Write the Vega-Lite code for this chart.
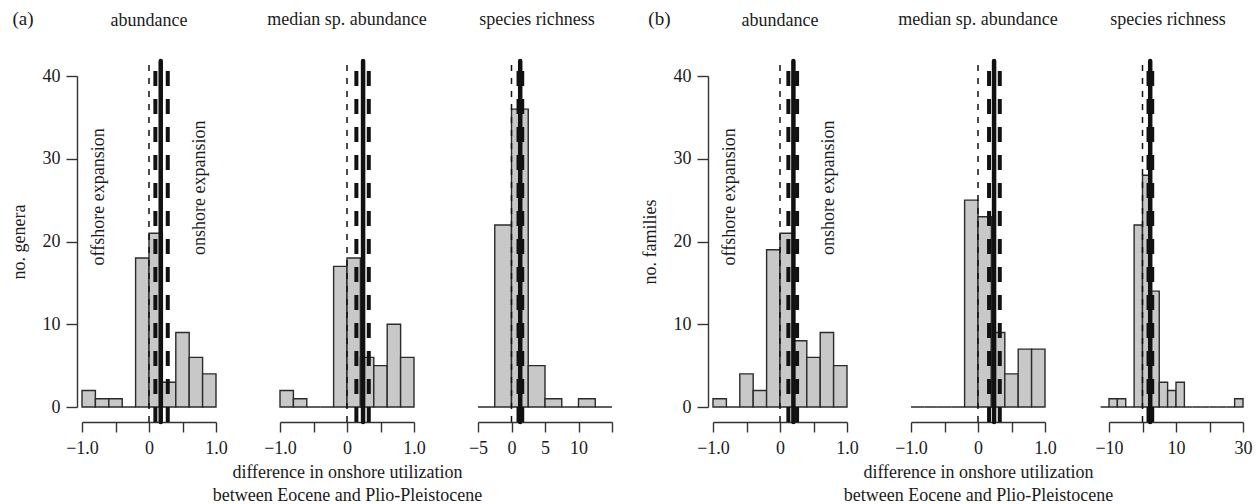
{
  "$schema": "https://vega.github.io/schema/vega-lite/v6.json",
  "padding": {"left": 10, "top": 9, "right": 2, "bottom": 2},
  "background": "white",
  "datasets": {
    "bins": [
      {"panel": "a1", "x0": -1.0, "x1": -0.8, "count": 2},
      {"panel": "a1", "x0": -0.8, "x1": -0.6, "count": 1},
      {"panel": "a1", "x0": -0.6, "x1": -0.4, "count": 1},
      {"panel": "a1", "x0": -0.4, "x1": -0.2, "count": 0},
      {"panel": "a1", "x0": -0.2, "x1": 0.0, "count": 18},
      {"panel": "a1", "x0": 0.0, "x1": 0.2, "count": 21},
      {"panel": "a1", "x0": 0.2, "x1": 0.4, "count": 3},
      {"panel": "a1", "x0": 0.4, "x1": 0.6, "count": 9},
      {"panel": "a1", "x0": 0.6, "x1": 0.8, "count": 6},
      {"panel": "a1", "x0": 0.8, "x1": 1.0, "count": 4},
      {"panel": "a2", "x0": -1.0, "x1": -0.8, "count": 2},
      {"panel": "a2", "x0": -0.8, "x1": -0.6, "count": 1},
      {"panel": "a2", "x0": -0.6, "x1": -0.4, "count": 0},
      {"panel": "a2", "x0": -0.4, "x1": -0.2, "count": 0},
      {"panel": "a2", "x0": -0.2, "x1": 0.0, "count": 17},
      {"panel": "a2", "x0": 0.0, "x1": 0.2, "count": 18},
      {"panel": "a2", "x0": 0.2, "x1": 0.4, "count": 6},
      {"panel": "a2", "x0": 0.4, "x1": 0.6, "count": 5},
      {"panel": "a2", "x0": 0.6, "x1": 0.8, "count": 10},
      {"panel": "a2", "x0": 0.8, "x1": 1.0, "count": 6},
      {"panel": "a3", "x0": -5, "x1": -2.5, "count": 0},
      {"panel": "a3", "x0": -2.5, "x1": 0, "count": 22},
      {"panel": "a3", "x0": 0, "x1": 2.5, "count": 36},
      {"panel": "a3", "x0": 2.5, "x1": 5, "count": 5},
      {"panel": "a3", "x0": 5, "x1": 7.5, "count": 1},
      {"panel": "a3", "x0": 7.5, "x1": 10, "count": 0},
      {"panel": "a3", "x0": 10, "x1": 12.5, "count": 1},
      {"panel": "a3", "x0": 12.5, "x1": 15, "count": 0},
      {"panel": "b1", "x0": -1.0, "x1": -0.8, "count": 1},
      {"panel": "b1", "x0": -0.8, "x1": -0.6, "count": 0},
      {"panel": "b1", "x0": -0.6, "x1": -0.4, "count": 4},
      {"panel": "b1", "x0": -0.4, "x1": -0.2, "count": 2},
      {"panel": "b1", "x0": -0.2, "x1": 0.0, "count": 19},
      {"panel": "b1", "x0": 0.0, "x1": 0.2, "count": 21},
      {"panel": "b1", "x0": 0.2, "x1": 0.4, "count": 8},
      {"panel": "b1", "x0": 0.4, "x1": 0.6, "count": 6},
      {"panel": "b1", "x0": 0.6, "x1": 0.8, "count": 9},
      {"panel": "b1", "x0": 0.8, "x1": 1.0, "count": 5},
      {"panel": "b2", "x0": -1.0, "x1": -0.8, "count": 0},
      {"panel": "b2", "x0": -0.8, "x1": -0.6, "count": 0},
      {"panel": "b2", "x0": -0.6, "x1": -0.4, "count": 0},
      {"panel": "b2", "x0": -0.4, "x1": -0.2, "count": 0},
      {"panel": "b2", "x0": -0.2, "x1": 0.0, "count": 25},
      {"panel": "b2", "x0": 0.0, "x1": 0.2, "count": 23},
      {"panel": "b2", "x0": 0.2, "x1": 0.4, "count": 9},
      {"panel": "b2", "x0": 0.4, "x1": 0.6, "count": 4},
      {"panel": "b2", "x0": 0.6, "x1": 0.8, "count": 7},
      {"panel": "b2", "x0": 0.8, "x1": 1.0, "count": 7},
      {"panel": "b3", "x0": -12.5, "x1": -10, "count": 0},
      {"panel": "b3", "x0": -10, "x1": -7.5, "count": 1},
      {"panel": "b3", "x0": -7.5, "x1": -5, "count": 1},
      {"panel": "b3", "x0": -5, "x1": -2.5, "count": 0},
      {"panel": "b3", "x0": -2.5, "x1": 0, "count": 22},
      {"panel": "b3", "x0": 0, "x1": 2.5, "count": 28},
      {"panel": "b3", "x0": 2.5, "x1": 5, "count": 14},
      {"panel": "b3", "x0": 5, "x1": 7.5, "count": 3},
      {"panel": "b3", "x0": 7.5, "x1": 10, "count": 2},
      {"panel": "b3", "x0": 10, "x1": 12.5, "count": 3},
      {"panel": "b3", "x0": 12.5, "x1": 15, "count": 0},
      {"panel": "b3", "x0": 15, "x1": 17.5, "count": 0},
      {"panel": "b3", "x0": 17.5, "x1": 20, "count": 0},
      {"panel": "b3", "x0": 20, "x1": 22.5, "count": 0},
      {"panel": "b3", "x0": 22.5, "x1": 25, "count": 0},
      {"panel": "b3", "x0": 25, "x1": 27.5, "count": 0},
      {"panel": "b3", "x0": 27.5, "x1": 30, "count": 1}
    ],
    "lines": [
      {"panel": "all", "kind": "zero", "value": 0},
      {"panel": "a1", "kind": "ci", "value": 0.095},
      {"panel": "a1", "kind": "ci", "value": 0.28},
      {"panel": "a1", "kind": "mean", "value": 0.175},
      {"panel": "a2", "kind": "ci", "value": 0.14},
      {"panel": "a2", "kind": "ci", "value": 0.325},
      {"panel": "a2", "kind": "mean", "value": 0.24},
      {"panel": "a3", "kind": "ci", "value": 1.05},
      {"panel": "a3", "kind": "ci", "value": 1.6},
      {"panel": "a3", "kind": "mean", "value": 1.3},
      {"panel": "b1", "kind": "ci", "value": 0.125},
      {"panel": "b1", "kind": "ci", "value": 0.255},
      {"panel": "b1", "kind": "mean", "value": 0.2},
      {"panel": "b2", "kind": "ci", "value": 0.165},
      {"panel": "b2", "kind": "ci", "value": 0.325},
      {"panel": "b2", "kind": "mean", "value": 0.24},
      {"panel": "b3", "kind": "ci", "value": 1.8},
      {"panel": "b3", "kind": "ci", "value": 2.9},
      {"panel": "b3", "kind": "mean", "value": 2.3}
    ],
    "one": [{}],
    "none": []
  },
  "spacing": 0,
  "bounds": "flush",
  "resolve": {"scale": {"x": "independent", "y": "independent"}},
  "hconcat": [
    {
      "width": 134, "height": 331,
      "title": {"text": "abundance", "offset": 30, "dy": 50},
      "layer": [
        {"data": {"name": "bins"}, "transform": [{"filter": "datum.panel === 'a1'"}],
         "mark": {"type": "rect", "fill": "#c8c8c8", "stroke": "#2b2b2b", "strokeWidth": 1.4},
         "encoding": {
           "x": {"field": "x0", "type": "quantitative", "scale": {"domain": [-1, 1], "nice": false, "zero": false},
                 "axis": {"values": [-1, -0.5, 0, 0.5, 1], "tickCount": 20, "title": null, "labelOverlap": false, "labelExpr": "datum.value === -1 ? '−1.0' : datum.value === 0 ? '0' : datum.value === 1 ? '1.0' : ''"}},
           "x2": {"field": "x1"},
           "y": {"field": "count", "type": "quantitative", "scale": {"domain": [0, 40], "nice": false},
                 "axis": {"title": "no. genera", "values": [0, 10, 20, 30, 40], "tickCount": 20, "labelOverlap": false}},
           "y2": {"datum": 0}
         }},
        {"data": {"name": "lines"}, "transform": [{"filter": "datum.kind === 'zero'"}],
         "mark": {"type": "rule", "stroke": "#111", "strokeWidth": 1.5, "strokeDash": [6, 7]},
         "encoding": {"x": {"field": "value", "type": "quantitative"}, "y": {"datum": -1.8}, "y2": {"datum": 41.8}}},
        {"data": {"name": "lines"}, "transform": [{"filter": "datum.panel === 'a1' && datum.kind === 'ci'"}],
         "mark": {"type": "rule", "stroke": "#111", "strokeWidth": 4, "strokeDash": [15, 13]},
         "encoding": {"x": {"field": "value", "type": "quantitative"}, "y": {"datum": -1.8}, "y2": {"datum": 41.8}}},
        {"data": {"name": "lines"}, "transform": [{"filter": "datum.panel === 'a1' && datum.kind === 'mean'"}],
         "mark": {"type": "rule", "stroke": "#111", "strokeWidth": 4.5, "strokeCap": "round"},
         "encoding": {"x": {"field": "value", "type": "quantitative"}, "y": {"datum": -1.8}, "y2": {"datum": 41.8}}},
        {"data": {"name": "one"},
         "mark": {"type": "text", "text": "offshore expansion", "angle": 270, "align": "center", "baseline": "middle", "fontSize": 18, "font": "Liberation Serif", "color": "#1a1a1a"},
         "encoding": {"x": {"datum": -0.74}, "y": {"datum": 25.4}}},
        {"data": {"name": "one"},
         "mark": {"type": "text", "text": "onshore expansion", "angle": 270, "align": "center", "baseline": "middle", "fontSize": 18, "font": "Liberation Serif", "color": "#1a1a1a"},
         "encoding": {"x": {"datum": 0.757}, "y": {"datum": 26.5}}},
        {"data": {"name": "one"},
         "mark": {"type": "text", "text": "(a)", "align": "center", "baseline": "alphabetic", "fontSize": 19, "font": "Liberation Serif", "color": "#1a1a1a"},
         "encoding": {"x": {"datum": -1.88}, "y": {"datum": 46.2}}}
      ]
    },
    {"width": 64, "height": 331, "data": {"name": "none"}, "mark": "point"},
    {
      "width": 134, "height": 331,
      "title": {"text": "median sp. abundance", "offset": 30},
      "layer": [
        {"data": {"name": "bins"}, "transform": [{"filter": "datum.panel === 'a2'"}],
         "mark": {"type": "rect", "fill": "#c8c8c8", "stroke": "#2b2b2b", "strokeWidth": 1.4},
         "encoding": {
           "x": {"field": "x0", "type": "quantitative", "scale": {"domain": [-1, 1], "nice": false, "zero": false},
                 "axis": {"values": [-1, -0.5, 0, 0.5, 1], "tickCount": 20, "title": ["difference in onshore utilization", "between Eocene and Plio-Pleistocene"], "titleLineHeight": 23, "titlePadding": 6, "labelOverlap": false, "labelExpr": "datum.value === -1 ? '−1.0' : datum.value === 0 ? '0' : datum.value === 1 ? '1.0' : ''"}},
           "x2": {"field": "x1"},
           "y": {"field": "count", "type": "quantitative", "scale": {"domain": [0, 40], "nice": false}, "axis": null},
           "y2": {"datum": 0}
         }},
        {"data": {"name": "lines"}, "transform": [{"filter": "datum.kind === 'zero'"}],
         "mark": {"type": "rule", "stroke": "#111", "strokeWidth": 1.5, "strokeDash": [6, 7]},
         "encoding": {"x": {"field": "value", "type": "quantitative"}, "y": {"datum": -1.8}, "y2": {"datum": 41.8}}},
        {"data": {"name": "lines"}, "transform": [{"filter": "datum.panel === 'a2' && datum.kind === 'ci'"}],
         "mark": {"type": "rule", "stroke": "#111", "strokeWidth": 4, "strokeDash": [15, 13]},
         "encoding": {"x": {"field": "value", "type": "quantitative"}, "y": {"datum": -1.8}, "y2": {"datum": 41.8}}},
        {"data": {"name": "lines"}, "transform": [{"filter": "datum.panel === 'a2' && datum.kind === 'mean'"}],
         "mark": {"type": "rule", "stroke": "#111", "strokeWidth": 4.5, "strokeCap": "round"},
         "encoding": {"x": {"field": "value", "type": "quantitative"}, "y": {"datum": -1.8}, "y2": {"datum": 41.8}}}
      ]
    },
    {"width": 64, "height": 331, "data": {"name": "none"}, "mark": "point"},
    {
      "width": 134, "height": 331,
      "title": {"text": "species richness", "offset": 30, "dx": -8},
      "layer": [
        {"data": {"name": "bins"}, "transform": [{"filter": "datum.panel === 'a3'"}],
         "mark": {"type": "rect", "fill": "#c8c8c8", "stroke": "#2b2b2b", "strokeWidth": 1.4},
         "encoding": {
           "x": {"field": "x0", "type": "quantitative", "scale": {"domain": [-5, 15], "nice": false, "zero": false},
                 "axis": {"values": [-5, 0, 5, 10, 15], "tickCount": 20, "title": null, "labelOverlap": false, "labelExpr": "datum.value === -5 ? '−5' : datum.value === 15 ? '' : datum.label"}},
           "x2": {"field": "x1"},
           "y": {"field": "count", "type": "quantitative", "scale": {"domain": [0, 40], "nice": false}, "axis": null},
           "y2": {"datum": 0}
         }},
        {"data": {"name": "lines"}, "transform": [{"filter": "datum.kind === 'zero'"}],
         "mark": {"type": "rule", "stroke": "#111", "strokeWidth": 1.5, "strokeDash": [6, 7]},
         "encoding": {"x": {"field": "value", "type": "quantitative"}, "y": {"datum": -1.8}, "y2": {"datum": 41.8}}},
        {"data": {"name": "lines"}, "transform": [{"filter": "datum.panel === 'a3' && datum.kind === 'ci'"}],
         "mark": {"type": "rule", "stroke": "#111", "strokeWidth": 4, "strokeDash": [15, 13]},
         "encoding": {"x": {"field": "value", "type": "quantitative"}, "y": {"datum": -1.8}, "y2": {"datum": 41.8}}},
        {"data": {"name": "lines"}, "transform": [{"filter": "datum.panel === 'a3' && datum.kind === 'mean'"}],
         "mark": {"type": "rule", "stroke": "#111", "strokeWidth": 4.5, "strokeCap": "round"},
         "encoding": {"x": {"field": "value", "type": "quantitative"}, "y": {"datum": -1.8}, "y2": {"datum": 41.8}}}
      ]
    },
    {"width": 101, "height": 331, "data": {"name": "none"}, "mark": "point"},
    {
      "width": 134, "height": 331,
      "title": {"text": "abundance", "offset": 30, "dy": 50},
      "layer": [
        {"data": {"name": "bins"}, "transform": [{"filter": "datum.panel === 'b1'"}],
         "mark": {"type": "rect", "fill": "#c8c8c8", "stroke": "#2b2b2b", "strokeWidth": 1.4},
         "encoding": {
           "x": {"field": "x0", "type": "quantitative", "scale": {"domain": [-1, 1], "nice": false, "zero": false},
                 "axis": {"values": [-1, -0.5, 0, 0.5, 1], "tickCount": 20, "title": null, "labelOverlap": false, "labelExpr": "datum.value === -1 ? '−1.0' : datum.value === 0 ? '0' : datum.value === 1 ? '1.0' : ''"}},
           "x2": {"field": "x1"},
           "y": {"field": "count", "type": "quantitative", "scale": {"domain": [0, 40], "nice": false},
                 "axis": {"title": "no. families", "values": [0, 10, 20, 30, 40], "tickCount": 20, "labelOverlap": false}},
           "y2": {"datum": 0}
         }},
        {"data": {"name": "lines"}, "transform": [{"filter": "datum.kind === 'zero'"}],
         "mark": {"type": "rule", "stroke": "#111", "strokeWidth": 1.5, "strokeDash": [6, 7]},
         "encoding": {"x": {"field": "value", "type": "quantitative"}, "y": {"datum": -1.8}, "y2": {"datum": 41.8}}},
        {"data": {"name": "lines"}, "transform": [{"filter": "datum.panel === 'b1' && datum.kind === 'ci'"}],
         "mark": {"type": "rule", "stroke": "#111", "strokeWidth": 4, "strokeDash": [15, 13]},
         "encoding": {"x": {"field": "value", "type": "quantitative"}, "y": {"datum": -1.8}, "y2": {"datum": 41.8}}},
        {"data": {"name": "lines"}, "transform": [{"filter": "datum.panel === 'b1' && datum.kind === 'mean'"}],
         "mark": {"type": "rule", "stroke": "#111", "strokeWidth": 4.5, "strokeCap": "round"},
         "encoding": {"x": {"field": "value", "type": "quantitative"}, "y": {"datum": -1.8}, "y2": {"datum": 41.8}}},
        {"data": {"name": "one"},
         "mark": {"type": "text", "text": "offshore expansion", "angle": 270, "align": "center", "baseline": "middle", "fontSize": 18, "font": "Liberation Serif", "color": "#1a1a1a"},
         "encoding": {"x": {"datum": -0.75}, "y": {"datum": 25.4}}},
        {"data": {"name": "one"},
         "mark": {"type": "text", "text": "onshore expansion", "angle": 270, "align": "center", "baseline": "middle", "fontSize": 18, "font": "Liberation Serif", "color": "#1a1a1a"},
         "encoding": {"x": {"datum": 0.724}, "y": {"datum": 26.5}}},
        {"data": {"name": "one"},
         "mark": {"type": "text", "text": "(b)", "align": "center", "baseline": "alphabetic", "fontSize": 19, "font": "Liberation Serif", "color": "#1a1a1a"},
         "encoding": {"x": {"datum": -1.8}, "y": {"datum": 46.2}}}
      ]
    },
    {"width": 64, "height": 331, "data": {"name": "none"}, "mark": "point"},
    {
      "width": 134, "height": 331,
      "title": {"text": "median sp. abundance", "offset": 30},
      "layer": [
        {"data": {"name": "bins"}, "transform": [{"filter": "datum.panel === 'b2'"}],
         "mark": {"type": "rect", "fill": "#c8c8c8", "stroke": "#2b2b2b", "strokeWidth": 1.4},
         "encoding": {
           "x": {"field": "x0", "type": "quantitative", "scale": {"domain": [-1, 1], "nice": false, "zero": false},
                 "axis": {"values": [-1, -0.5, 0, 0.5, 1], "tickCount": 20, "title": ["difference in onshore utilization", "between Eocene and Plio-Pleistocene"], "titleLineHeight": 23, "titlePadding": 6, "labelOverlap": false, "labelExpr": "datum.value === -1 ? '−1.0' : datum.value === 0 ? '0' : datum.value === 1 ? '1.0' : ''"}},
           "x2": {"field": "x1"},
           "y": {"field": "count", "type": "quantitative", "scale": {"domain": [0, 40], "nice": false}, "axis": null},
           "y2": {"datum": 0}
         }},
        {"data": {"name": "lines"}, "transform": [{"filter": "datum.kind === 'zero'"}],
         "mark": {"type": "rule", "stroke": "#111", "strokeWidth": 1.5, "strokeDash": [6, 7]},
         "encoding": {"x": {"field": "value", "type": "quantitative"}, "y": {"datum": -1.8}, "y2": {"datum": 41.8}}},
        {"data": {"name": "lines"}, "transform": [{"filter": "datum.panel === 'b2' && datum.kind === 'ci'"}],
         "mark": {"type": "rule", "stroke": "#111", "strokeWidth": 4, "strokeDash": [15, 13]},
         "encoding": {"x": {"field": "value", "type": "quantitative"}, "y": {"datum": -1.8}, "y2": {"datum": 41.8}}},
        {"data": {"name": "lines"}, "transform": [{"filter": "datum.panel === 'b2' && datum.kind === 'mean'"}],
         "mark": {"type": "rule", "stroke": "#111", "strokeWidth": 4.5, "strokeCap": "round"},
         "encoding": {"x": {"field": "value", "type": "quantitative"}, "y": {"datum": -1.8}, "y2": {"datum": 41.8}}}
      ]
    },
    {"width": 64, "height": 331, "data": {"name": "none"}, "mark": "point"},
    {
      "width": 134, "height": 331,
      "title": {"text": "species richness", "offset": 30, "dx": -8},
      "layer": [
        {"data": {"name": "bins"}, "transform": [{"filter": "datum.panel === 'b3'"}],
         "mark": {"type": "rect", "fill": "#c8c8c8", "stroke": "#2b2b2b", "strokeWidth": 1.4},
         "encoding": {
           "x": {"field": "x0", "type": "quantitative", "scale": {"domain": [-10, 30], "nice": false, "zero": false},
                 "axis": {"values": [-10, 0, 10, 20, 30], "tickCount": 20, "title": null, "labelOverlap": false, "labelExpr": "datum.value === -10 ? '−10' : datum.value === 10 ? '10' : datum.value === 30 ? '30' : ''"}},
           "x2": {"field": "x1"},
           "y": {"field": "count", "type": "quantitative", "scale": {"domain": [0, 40], "nice": false}, "axis": null},
           "y2": {"datum": 0}
         }},
        {"data": {"name": "lines"}, "transform": [{"filter": "datum.kind === 'zero'"}],
         "mark": {"type": "rule", "stroke": "#111", "strokeWidth": 1.5, "strokeDash": [6, 7]},
         "encoding": {"x": {"field": "value", "type": "quantitative"}, "y": {"datum": -1.8}, "y2": {"datum": 41.8}}},
        {"data": {"name": "lines"}, "transform": [{"filter": "datum.panel === 'b3' && datum.kind === 'ci'"}],
         "mark": {"type": "rule", "stroke": "#111", "strokeWidth": 4, "strokeDash": [15, 13]},
         "encoding": {"x": {"field": "value", "type": "quantitative"}, "y": {"datum": -1.8}, "y2": {"datum": 41.8}}},
        {"data": {"name": "lines"}, "transform": [{"filter": "datum.panel === 'b3' && datum.kind === 'mean'"}],
         "mark": {"type": "rule", "stroke": "#111", "strokeWidth": 4.5, "strokeCap": "round"},
         "encoding": {"x": {"field": "value", "type": "quantitative"}, "y": {"datum": -1.8}, "y2": {"datum": 41.8}}}
      ]
    }
  ],
  "config": {
    "view": {"stroke": null},
    "font": "Liberation Serif",
    "axis": {
      "labelFont": "Liberation Serif", "labelFontSize": 18, "labelColor": "#1a1a1a",
      "titleFont": "Liberation Serif", "titleFontSize": 18, "titleFontWeight": "normal", "titleColor": "#1a1a1a",
      "domainColor": "#333333", "tickColor": "#333333", "domainWidth": 1.4, "tickWidth": 1.4,
      "grid": false, "labelFlush": false, "labelOverlap": false
    },
    "axisX": {"offset": 15, "tickSize": 10, "labelPadding": 7},
    "axisY": {"offset": 5, "tickSize": 11, "labelPadding": 6, "titlePadding": 14},
    "title": {"font": "Liberation Serif", "fontSize": 18, "fontWeight": "normal", "color": "#1a1a1a", "frame": "group"}
  }
}
